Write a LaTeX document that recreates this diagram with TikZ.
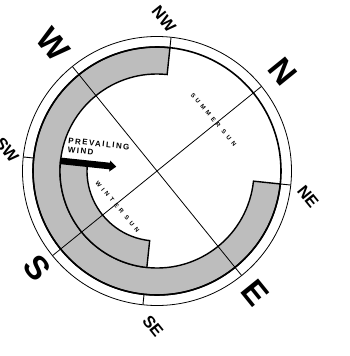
\documentclass[tikz,border=0pt]{standalone}
\usepackage{fontspec}
\setmainfont{Liberation Sans}
\newfontfamily\windfont[LetterSpace=18]{Liberation Sans}
\newfontfamily\sunfont[LetterSpace=55]{Liberation Sans}
\begin{document}
\begin{tikzpicture}[x=1pt,y=1pt,
  band/.style={fill=black!26, draw=black, line width=1.4pt, line join=miter},
  thickring/.style={draw=black, line width=1.6pt},
  thinring/.style={draw=black, line width=0.8pt},
  diam/.style={draw=black, line width=0.8pt},
  tick/.style={draw=black, line width=0.9pt},
  bigl/.style={inner sep=0pt, rotate=-51, font=\fontsize{33}{33}\selectfont\bfseries},
  smalll/.style={inner sep=0pt, rotate=-51, font=\fontsize{16.5}{16.5}\selectfont\bfseries},
  windtxt/.style={inner sep=0pt, anchor=base west, rotate=-6, font=\windfont\fontsize{8}{8}\selectfont\bfseries},
  suntxt/.style={inner sep=0pt, rotate=-50, font=\sunfont\fontsize{6}{6}\selectfont\bfseries}
]
\useasboundingbox (0,-356) rectangle (350,0);
\coordinate (C) at (157,-171);
\begin{scope}[shift={(C)}, rotate=-51]
  % outer (summer) band: NW -> W -> S -> E -> NE
  \path[band] (135:124) arc[start angle=135, end angle=405, radius=124]
    -- (45:97) arc[start angle=405, end angle=135, radius=97] -- cycle;
  % inner (winter) band: SW -> S -> SE
  \path[band] (224:97) arc[start angle=224, end angle=315, radius=97]
    -- (315:70) arc[start angle=315, end angle=224, radius=70] -- cycle;
  % rings
  \draw[thickring] (0,0) circle[radius=124];
  \draw[thinring] (0,0) circle[radius=134.5];
  % diameters
  \coordinate (pN) at (90:134.5);
  \coordinate (pS) at (270:134.5);
  \coordinate (pW) at (180:134.5);
  \coordinate (pE) at (0:134.5);
  \draw[diam] (pN) -- (pS);
  \draw[diam] (pW) -- (pE);
  % intercardinal ticks
  \foreach \a/\n in {45/NE,135/NW,225/SW,315/SE}{
    \coordinate (i\n) at (\a:124);
    \coordinate (o\n) at (\a:134.5);
    \draw[tick] (i\n) -- (o\n);
  }
  % prevailing wind arrow along the SW radius
  \begin{scope}[rotate=45]
    \fill[black] (-97,3.3) -- (-47.5,3.3) -- (-47.5,5.5) -- (-41,0)
      -- (-47.5,-5.5) -- (-47.5,-3.3) -- (-97,-3.3) -- cycle;
  \end{scope}
\end{scope}
% cardinal letters
\node[bigl] (lW) at (53,-44) {W};
\node[bigl] (lN) at (283,-72) {N};
\node[bigl] (lS) at (37,-268) {S};
\node[bigl] (lE) at (255,-293) {E};
% intercardinal letters
\node[smalll] (lNW) at (164,-19) {NW};
\node[smalll] (lNE) at (308,-197) {NE};
\node[smalll] (lSE) at (153,-326) {SE};
\node[smalll] (lSW) at (7,-150) {SW};
% texts
\node[windtxt] (t1) at (68,-143.3) {PREVAILING};
\node[windtxt] (t2) at (67.5,-152.6) {WIND};
\node[suntxt] (t3) at (213.5,-119.5) {SUMMER SUN};
\node[suntxt] (t4) at (117.5,-206.5) {WINTER SUN};
\end{tikzpicture}
\end{document}
